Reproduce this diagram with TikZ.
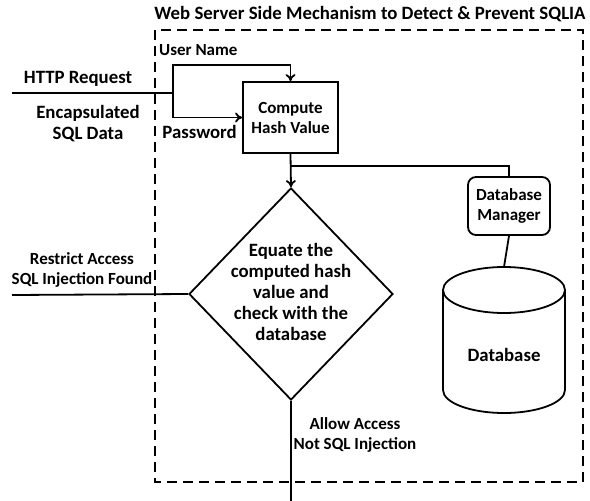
\documentclass[tikz,border=0pt]{standalone}
\usepackage{fontspec}
\setmainfont{Carlito}
\usetikzlibrary{shapes.geometric,arrows.meta}

\begin{document}
\begin{tikzpicture}[x=1pt, y=-1pt, line width=1.8pt,
   >={To[length=7pt,width=10pt]},
   every node/.style={font=\bfseries\fontsize{17}{20}\selectfont, align=center},
   big/.style={font=\bfseries\fontsize{18.8}{21}\selectfont},
   border/.style={dash pattern=on 10pt off 6pt, line width=1.8pt},
   hashbox/.style={draw, rectangle, minimum width=95pt, minimum height=71pt, inner sep=0pt},
   mgrbox/.style={draw, rectangle, rounded corners=8pt, minimum width=82pt, minimum height=58pt, inner sep=0pt},
   checkbox/.style={draw, diamond, minimum width=204pt, minimum height=212pt, inner sep=0pt}]

   %\draw[step=50pt,gray,very thin] (0,0) grid (590,501);
   \useasboundingbox (0,0) rectangle (590,501);

   % server side frame
   \node [big] (title) at (370,14) {Web Server Side Mechanism to Detect \& Prevent SQLIA};
   \draw [border] (155,30) rectangle (583,482);

   \node [hashbox] (hash) at (290.5,117.5) {Compute\\Hash Value};
   \node [checkbox] (check) at (291,294) {};
   \node [big] (checktext) at (291,292) {Equate the\\computed hash\\value and\\check with the\\database};
   \node [mgrbox] (mgr) at (509,206) {Database\\Manager};

   % database cylinder
   \coordinate (dbtop) at (504,267);
   \draw (443,290) -- (443,390) arc [start angle=180, end angle=0, x radius=61, y radius=23] -- (565,290);
   \draw (504,290) ellipse [x radius=61, y radius=23];
   \node [big] (dbtext) at (504,355) {Database};

   % incoming request
   \coordinate (in) at (12,93);
   \coordinate (split) at (173,93);
   \coordinate (user) at (290.5,65);
   \draw (in) -- (split);
   \draw [->] (split) |- (user) -- (hash.north);
   \draw [->] (split) |- (hash.west);

   \node [big] at (78,79) {HTTP Request};
   \node [big] at (88,124) {Encapsulated\\SQL Data};
   \node [right] at (155,50) {User Name};
   \node [big, left] at (241,132) {Password};

   % hash value to check and to the database
   \draw [->] (hash.south) -- (check.north);
   \draw (hash.south) ++(0,12) -| (mgr.north);
   \draw (mgr.south) -- (dbtop);

   % outcomes
   \coordinate (restrict) at (12,295);
   \coordinate (allow) at (291,501);
   \draw (check.west) -- (restrict);
   \draw (check.south) -- (allow);

   \node at (82,270) {Restrict Access\\SQL Injection Found};
   \node at (355,435) {Allow Access\\Not SQL Injection};

\end{tikzpicture}
\end{document}
